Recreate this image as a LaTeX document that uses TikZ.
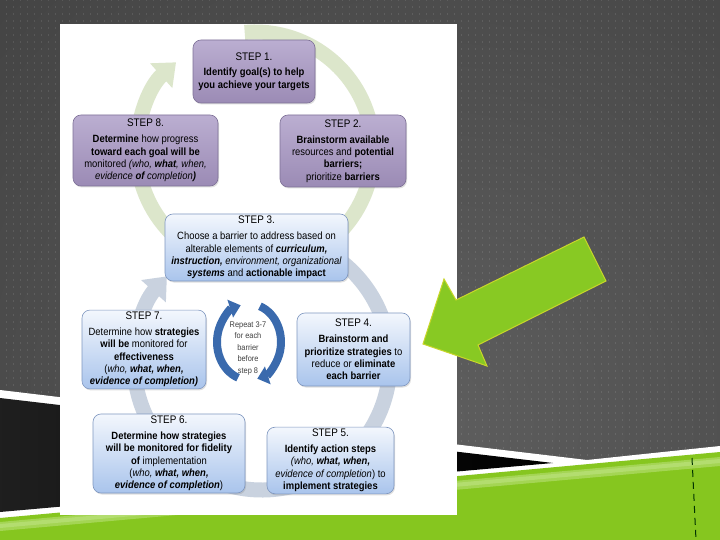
\documentclass[tikz,border=0pt]{standalone}
\usepackage{fontspec}
\setmainfont{Liberation Sans}[FakeStretch=0.9]
\usetikzlibrary{arrows.meta,shadows,patterns.meta}
\definecolor{bgin}{HTML}{5E5E5E}
\definecolor{bgout}{HTML}{2E2E2E}
\definecolor{lime}{HTML}{86C61F}
\definecolor{limehi}{HTML}{C2E58A}
\definecolor{arrowfill}{HTML}{88C923}
\definecolor{arrowedge}{HTML}{C9D62A}
\definecolor{ptop}{HTML}{BBAED1}
\definecolor{pbot}{HTML}{9B8BB5}
\definecolor{pborder}{HTML}{7E7197}
\definecolor{btop}{HTML}{F3F7FD}
\definecolor{bbot}{HTML}{A9C4EC}
\definecolor{bborder}{HTML}{7F97C0}
\definecolor{ringg}{HTML}{DCE6CB}
\definecolor{ringb}{HTML}{C9D2DF}
\definecolor{repblue}{HTML}{3A6AAD}
\tikzdeclarepattern{
  name=bgdots,
  type=uncolored,
  bounding box={(0pt,0pt) and (7pt,7pt)},
  tile size={(7pt,7pt)},
  code={\fill (0pt,0pt) rectangle (1pt,2pt);}
}
\newcommand\stephd[1]{{\fontsize{11}{12}\selectfont #1}\\[3.5pt]}
\begin{document}
\begin{tikzpicture}[x=1pt,y=-1pt,
  stepbase/.style={rounded corners=8pt, align=center, inner sep=2pt,
    font=\fontsize{10.5}{12.3}\selectfont, text=black, line width=0.6pt,
    drop shadow={opacity=0.25,shadow xshift=1pt,shadow yshift=-1.5pt}},
  pbox/.style={stepbase, draw=pborder, top color=ptop, bottom color=pbot},
  bbox/.style={stepbase, draw=bborder, top color=btop, bottom color=bbot},
  ring/.style={line width=15pt},
  rep/.style={line width=8pt, draw=repblue, -{Triangle[width=18pt,length=11pt]}}
]
\useasboundingbox (0,0) rectangle (720,540);
% background
\begin{scope}
  \clip (0,0) rectangle (720,540);
  \shade[inner color=bgin, outer color=bgout] (430,420) circle (1100);
  \fill[pattern=bgdots, pattern color=white, opacity=0.1] (0,0) rectangle (720,540);
  \fill[white] (0,390) -- (587,460) -- (720,446) -- (720,540) -- (0,540) -- cycle;
  \shade[left color=black!88, right color=black] (0,398) -- (553,463) -- (0,512) -- cycle;
  \fill[lime] (0,518) -- (720,452) -- (720,540) -- (0,540) -- cycle;
  \fill[limehi, opacity=0.5] (0,522) -- (720,457) -- (720,466) -- (0,531) -- cycle;
  \fill[limehi, opacity=0.5] (0,524) -- (720,459) -- (720,463) -- (0,528) -- cycle;
\end{scope}
\draw[black!80!green, line width=1pt, dash pattern=on 7pt off 5pt] (692,458) -- (696,540);
% picture
\fill[white] (60,24) rectangle (457,515);
% rings
\draw[ring, draw=ringb, -{Triangle[width=32pt,length=20pt]}]
  (262,362) ++(-95:128) arc[start angle=-95, end angle=222, radius=128];
\draw[ring, draw=ringg, -{Triangle[width=32pt,length=20pt]}]
  (255,150) ++(-95:118) arc[start angle=-95, end angle=228, radius=118];
% step boxes
\node[pbox, minimum width=122pt, minimum height=63pt] (s1) at (254,71.5)
  {\stephd{STEP 1.}\textbf{Identify goal(s) to help}\\\textbf{you achieve your targets}};
\node[pbox, minimum width=145pt, minimum height=71pt] (s8) at (145.5,150.5)
  {\stephd{STEP 8.}\textbf{Determine} how progress\\\textbf{toward each goal will be}\\monitored \textit{(who, \textbf{what}, when,}\\\textit{evidence \textbf{of} completion\textbf{)}}};
\node[pbox, minimum width=126pt, minimum height=72pt] (s2) at (343,151)
  {\stephd{STEP 2.}\textbf{Brainstorm available}\\resources and \textbf{potential}\\\textbf{barriers;}\\prioritize \textbf{barriers}};
\node[bbox, minimum width=183pt, minimum height=67pt] (s3) at (256.5,247.5)
  {\stephd{STEP 3.}Choose a barrier to address based on\\alterable elements of \textbf{\textit{curriculum,}}\\\textbf{\textit{instruction,}} \textit{environment, organizational}\\\textbf{\textit{systems}} and \textbf{actionable impact}};
\node[bbox, minimum width=124pt, minimum height=73pt] (s7) at (144,349.5)
  {\stephd{STEP 7.}Determine how \textbf{strategies}\\\textbf{will be} monitored for\\\textbf{effectiveness}\\(\textit{who, \textbf{what, when,}}\\\textbf{\textit{evidence of completion)}}};
\node[bbox, minimum width=113pt, minimum height=73pt] (s4) at (353.5,349.5)
  {\stephd{STEP 4.}\textbf{Brainstorm and}\\\textbf{prioritize strategies} to\\reduce or \textbf{eliminate}\\\textbf{each barrier}};
\node[bbox, minimum width=152pt, minimum height=79pt] (s6) at (169,453.5)
  {\stephd{STEP 6.}\textbf{Determine how strategies}\\\textbf{will be monitored for fidelity}\\\textbf{of} implementation\\(\textit{who, \textbf{what, when,}}\\\textbf{\textit{evidence of completion}})};
\node[bbox, minimum width=127pt, minimum height=65pt] (s5) at (330.5,460.5)
  {\stephd{STEP 5.}\textbf{Identify action steps}\\\textit{(who, \textbf{what, when,}}\\\textit{evidence of completion}) to\\\textbf{implement strategies}};
% repeat loop
\draw[rep] (249,342) ++(110:32 and 38) arc[start angle=110, end angle=255, x radius=32, y radius=38];
\draw[rep] (249,342) ++(-70:32 and 38) arc[start angle=-70, end angle=75, x radius=32, y radius=38];
\node[align=center, font=\fontsize{8.2}{11.5}\selectfont, text=black!75] (rep) at (248,348)
  {Repeat 3-7\\for each\\barrier\\before\\step 8};
% green arrow
\fill[arrowfill, draw=arrowedge, line width=1pt]
  (584,237) -- (606,281) -- (478,345) -- (487,366) -- (423,344) -- (444,279) -- (456,300) -- cycle;
\end{tikzpicture}
\end{document}
